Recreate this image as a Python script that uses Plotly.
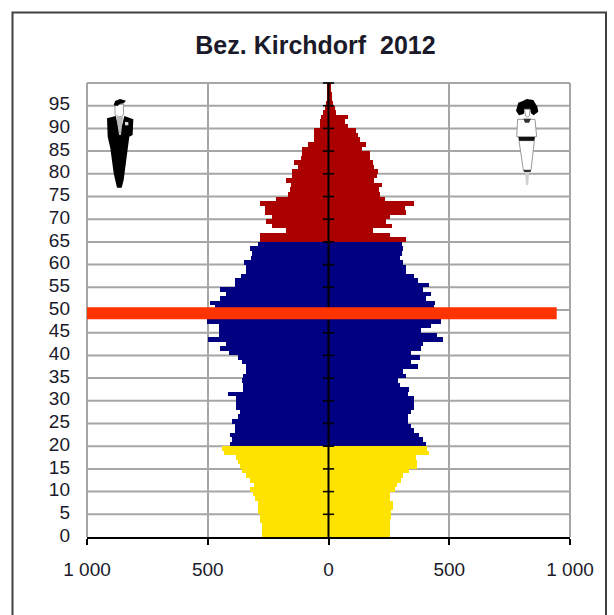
import plotly.graph_objects as go

TITLE = "Bez. Kirchdorf  2012"
ages = list(range(100))
male = [275,275,275,283,283,290,290,290,306,313,
        324,309,324,341,359,368,373,382,431,440,
        407,399,407,389,389,399,375,366,382,382,
        382,415,355,355,357,352,341,341,357,375,
        414,448,424,497,455,455,455,504,480,475,
        472,490,448,424,448,389,389,364,341,341,
        348,320,316,324,293,283,283,175,233,258,
        235,265,265,283,217,168,161,155,175,152,
        152,127,143,112,109,109,85,62,60,58,
        37,35,30,23,15,10,8,6,5,4]
female = [253,253,253,253,259,259,269,269,253,253,
          277,283,301,308,333,367,367,363,418,407,
          402,393,374,352,342,328,328,342,352,352,
          352,328,335,294,287,319,310,370,342,377,
          342,384,393,476,450,384,425,466,460,450,
          436,443,402,425,393,418,370,353,319,319,
          308,294,305,310,305,319,253,186,261,239,
          253,319,315,353,232,214,208,221,190,200,
          204,190,186,172,170,139,156,131,121,115,
          80,70,80,32,25,18,14,14,12,10]
marker_age = 49.3
marker_male = 1000
marker_female = 945
y_ticks = list(range(0, 100, 5))
cross_ticks = list(range(5, 101, 5))
x_ticks = [-1000, -500, 0, 500, 1000]
x_labels = ["1 000", "500", "0", "500", "1 000"]

W, H = 614, 615
L, R, T, B = 87, 570, 83, 537
YELLOW, BLUE, RED, ORANGE = "#FFE300", "#000080", "#AA0000", "#FF3300"
GRID = "#A6A6A6"
FONT = "Liberation Sans"


def group(lo, hi):
    return [a for a in ages if lo <= a < hi]


fig = go.Figure()
for lo, hi, col in [(0, 20, YELLOW), (20, 65, BLUE), (65, 100, RED)]:
    idx = group(lo, hi)
    yy = [a + 0.5 for a in idx]
    fig.add_bar(y=yy, x=[-male[a] for a in idx], orientation="h", width=1,
                marker=dict(color=col, line_width=0), showlegend=False)
    fig.add_bar(y=yy, x=[female[a] for a in idx], orientation="h", width=1,
                marker=dict(color=col, line_width=0), showlegend=False)

fig.add_scatter(x=[0] * 2, y=[0, 100], mode="lines",
                line=dict(color="black", width=2), showlegend=False, cliponaxis=False)
fig.add_scatter(x=[0] * len(cross_ticks), y=cross_ticks, mode="markers",
                marker=dict(symbol="line-ew", size=8, line=dict(color="black", width=1.6)),
                showlegend=False, cliponaxis=False)
fig.add_scatter(x=[-marker_male, marker_female], y=[marker_age] * 2, mode="lines",
                line=dict(color=ORANGE, width=12), showlegend=False)


def pic(points, fill, line=None, lw=0, closed=True):
    """Decorative pictogram outline given in page pixels."""
    d = ""
    for i, (px, py) in enumerate(points):
        d += ("M" if i == 0 else "L") + f"{(px-L)/(R-L):.4f},{(B-py)/(B-T):.4f} "
    if closed:
        d += "Z"
    return dict(type="path", xref="paper", yref="paper", path=d, fillcolor=fill,
                line=dict(color=line or fill, width=lw), layer="above")


def zm(ox, oy, pts):
    return [(ox + x / 3, oy + y / 3) for x, y in pts]


shapes = []
# grey plot border (paper refs, so it is not clipped)
for x0, y0, x1, y1 in [(0, 0, 0, 1), (1, 0, 1, 1), (0, 1, 1, 1)]:
    shapes.append(dict(type="line", xref="paper", yref="paper", x0=x0, y0=y0, x1=x1, y1=y1,
                       line=dict(color=GRID, width=2), layer="below"))
# outer frame
shapes.append(dict(type="rect", xref="paper", yref="paper",
                   x0=(12.5 - L) / (R - L), x1=(606 - L) / (R - L),
                   y0=(B - 660) / (B - T), y1=(B - 12.5) / (B - T),
                   line=dict(color="#404040", width=2), layer="above"))
# man
m = lambda p: zm(95, 90, p)
shapes += [
    pic(m([(60, 45), (60, 75), (70, 80), (80, 80), (86, 72), (85, 42)]), "white", "#999999", 1),
    pic(m([(56, 46), (60, 33), (75, 27), (93, 32), (86, 40), (74, 42), (68, 48)]), "black"),
    pic(m([(36, 85), (62, 78), (70, 110), (80, 110), (88, 78), (115, 88), (113, 135), (103, 140),
           (86, 270), (80, 293), (66, 293), (56, 250), (46, 175), (38, 140)]), "black"),
    pic(m([(64, 81), (84, 81), (78, 135), (72, 135)]), "#BBBBBB"),
    pic(m([(90, 96), (100, 96), (100, 106), (90, 106)]), "#DDDDDD"),
]
# woman
w = lambda p: zm(505, 90, p)
shapes += [
    pic(w([(38, 88), (90, 88), (95, 140), (35, 140)]), "white", "#999999", 1),
    pic(w([(42, 152), (88, 152), (78, 240), (55, 240)]), "white", "#999999", 1),
    pic(w([(60, 245), (72, 245), (70, 285), (63, 285)]), "#D0D0D0"),
    pic(w([(55, 240), (78, 240), (77, 246), (57, 246)]), "#333333"),
    pic(w([(40, 141), (90, 141), (88, 152), (42, 152)]), "#111111"),
    pic(w([(33, 62), (40, 38), (55, 32), (65, 27), (85, 30), (97, 50), (100, 65), (86, 76),
           (78, 70), (75, 58), (60, 58), (56, 72), (42, 76)]), "black"),
    pic(w([(58, 58), (75, 58), (73, 78), (68, 82), (62, 78)]), "white", "#999999", 1),
    pic(w([(55, 86), (78, 86), (72, 98), (60, 98)]), "#333333"),
]

fig.update_layout(
    width=W, height=H, autosize=False,
    margin=dict(l=L, r=W - R, t=T, b=H - B, pad=0),
    paper_bgcolor="white", plot_bgcolor="white",
    barmode="overlay", bargap=0, showlegend=False,
    title=dict(text=f"<b>{TITLE}</b>", x=(315.5) / W, xanchor="center", y=1 - 45 / H, yanchor="middle",
               font=dict(family=FONT, size=25, color="#1A1A2A")),
    font=dict(family=FONT, size=19, color="#1A1A2A"),
    shapes=shapes,
    xaxis=dict(range=[-1000, 1000], tickmode="array", tickvals=x_ticks, ticktext=x_labels,
               showgrid=True, gridcolor=GRID, gridwidth=2, zeroline=False,
               showline=True, linecolor="black", linewidth=1.5, ticks="outside", ticklen=6,
               tickcolor="black", tickwidth=1.5, ticklabelstandoff=8, layer="below traces"),
    yaxis=dict(range=[0, 100], tickmode="array", tickvals=y_ticks, ticktext=[str(a) for a in y_ticks],
               showgrid=False, zeroline=False, showline=False, ticks="", ticklabelstandoff=16,
               ticklabelshift=-2, layer="below traces"),
)
for gy in range(5, 100, 5):
    fig.add_shape(type="line", xref="x", yref="y", x0=-1000, x1=1000, y0=gy, y1=gy,
                  line=dict(color=GRID, width=2), layer="below")

fig.write_html("out.html", config={"displayModeBar": False},
               post_script="document.body.style.margin='0';document.body.style.overflow='hidden';")
